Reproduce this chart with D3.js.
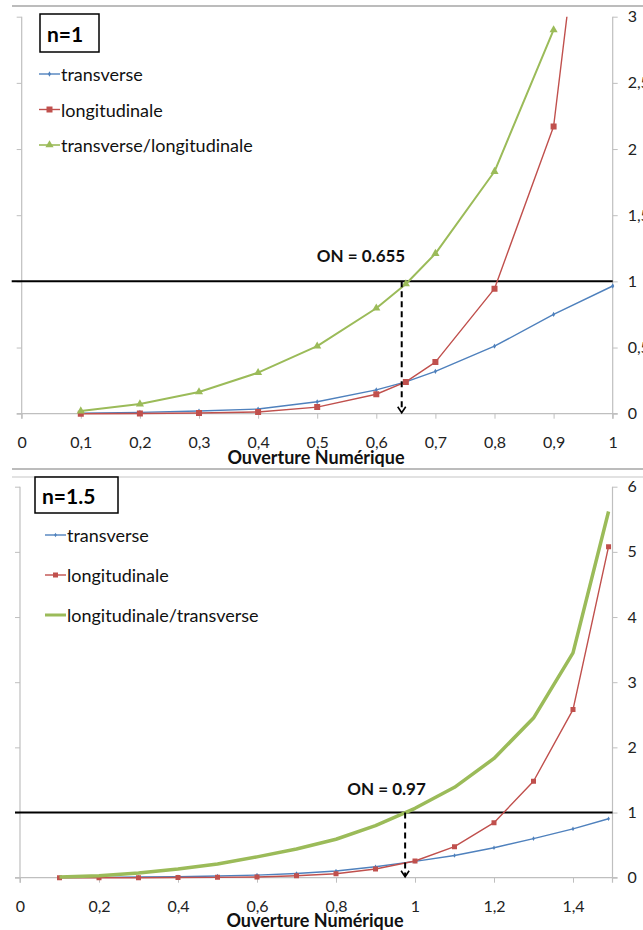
<!DOCTYPE html>
<html><head><meta charset="utf-8">
<script src="https://cdn.jsdelivr.net/npm/d3@7"></script>
<style>
html,body{margin:0;padding:0;background:#fff;}
svg{display:block;font-family:Lato,"Open Sans",sans-serif;}
</style></head>
<body>
<svg id="c" width="643" height="930"></svg>
<script>
// ---------- DATA ----------
// Chart 1 (n=1)
const x1 = [0.1, 0.2, 0.3, 0.4, 0.5, 0.6, 0.65, 0.7, 0.8, 0.9, 1.0];
const trans1 = [0.003, 0.01, 0.02, 0.035, 0.09, 0.18, 0.24, 0.32, 0.51, 0.75, 0.965];
const longi1 = [0.0, 0.002, 0.005, 0.013, 0.05, 0.147, 0.24, 0.39, 0.945, 2.17, 5.86];
const ratio1 = [0.02, 0.073, 0.164, 0.31, 0.51, 0.797, 0.98, 1.21, 1.83, 2.9, null];
const xTicks1 = [0, 0.1, 0.2, 0.3, 0.4, 0.5, 0.6, 0.7, 0.8, 0.9, 1];
const xTickLabels1 = ["0", "0,1", "0,2", "0,3", "0,4", "0,5", "0,6", "0,7", "0,8", "0,9", "1"];
const yTicks1 = [0, 0.5, 1, 1.5, 2, 2.5, 3];
const yTickLabels1 = ["0", "0,5", "1", "1,5", "2", "2,5", "3"];
const legend1 = ["transverse", "longitudinale", "transverse/longitudinale"];
const on1 = 0.643;
const onLabel1 = "ON = 0.655";
const title1 = "n=1";

// Chart 2 (n=1.5)
const x2 = [0.1, 0.2, 0.3, 0.4, 0.5, 0.6, 0.7, 0.8, 0.9, 1.0, 1.1, 1.2, 1.3, 1.4, 1.49];
const trans2 = [0.002, 0.005, 0.01, 0.015, 0.025, 0.04, 0.065, 0.103, 0.169, 0.25, 0.34, 0.46, 0.60, 0.75, 0.905];
const longi2 = [0.0, 0.0, 0.0, 0.002, 0.005, 0.01, 0.03, 0.06, 0.133, 0.256, 0.476, 0.844, 1.48, 2.58, 5.08];
const ratio2 = [0.01, 0.03, 0.072, 0.133, 0.21, 0.32, 0.44, 0.59, 0.80, 1.065, 1.387, 1.83, 2.45, 3.45, 5.62];
const xTicks2 = [0, 0.2, 0.4, 0.6, 0.8, 1.0, 1.2, 1.4];
const xTickLabels2 = ["0", "0,2", "0,4", "0,6", "0,8", "1", "1,2", "1,4"];
const yTicks2 = [0, 1, 2, 3, 4, 5, 6];
const yTickLabels2 = ["0", "1", "2", "3", "4", "5", "6"];
const legend2 = ["transverse", "longitudinale", "longitudinale/transverse"];
const on2 = 0.975;
const onLabel2 = "ON = 0.97";
const title2 = "n=1.5";

const axisTitle = "Ouverture Numérique";

// ---------- STYLE ----------
const BLUE = "#4F81BD", RED = "#C0504D", GREEN = "#9BBB59", GRID = "#BFBFBF";
const svg = d3.select("#c");

// separators
[[6, "#A6A6A6"], [469, "#A6A6A6"], [477, "#D9D9D9"]].forEach(([y, c]) => {
  svg.append("line").attr("x1", 12).attr("x2", 643).attr("y1", y).attr("y2", y)
    .attr("stroke", c).attr("stroke-width", 1.5);
});

function symType(m) {
  return m === "square" ? d3.symbolSquare : m === "triangle" ? d3.symbolTriangle : d3.symbolDiamond;
}
function symSize(m, ms) {
  return ms * ms * (m === "triangle" ? 0.45 : m === "diamond" ? 0.5 : 1);
}

function drawChart(o) {
  const g = svg.append("g");
  const xs = d3.scaleLinear().domain(o.xDomain).range(o.xRange);
  const ys = d3.scaleLinear().domain(o.yDomain).range(o.yRange);
  const [L, R] = o.xRange, [B, T] = o.yRange;
  const clipId = "clip" + o.id;
  g.append("clipPath").attr("id", clipId).append("rect")
    .attr("x", L - 10).attr("y", T).attr("width", R - L + 20).attr("height", B - T + 10);

  // left axis (no labels)
  const la = g.append("g").attr("transform", `translate(${L},0)`)
    .call(d3.axisLeft(ys).tickValues(o.yTicks).tickSize(5).tickFormat(""));
  la.select(".domain").remove();
  la.selectAll(".tick line").attr("stroke", GRID);
  g.append("line").attr("x1", L).attr("x2", L).attr("y1", T).attr("y2", B + 5).attr("stroke", GRID).attr("stroke-width", 1.2);

  // right axis
  const ra = g.append("g").attr("transform", `translate(${R},0)`)
    .call(d3.axisRight(ys).tickValues(o.yTicks).tickSize(5).tickPadding(10)
      .tickFormat((d, i) => o.yTickLabels[i]));
  ra.select(".domain").remove();
  ra.selectAll(".tick line").attr("stroke", GRID);
  ra.selectAll(".tick text").attr("font-size", 16).attr("fill", "#222").attr("font-family", "Lato, sans-serif");
  g.append("line").attr("x1", R).attr("x2", R).attr("y1", T).attr("y2", B + 5).attr("stroke", GRID).attr("stroke-width", 1.2);

  // x axis
  const xa = g.append("g").attr("transform", `translate(0,${B})`)
    .call(d3.axisBottom(xs).tickValues(o.xTicks).tickSize(5).tickPadding(18)
      .tickFormat((d, i) => o.xTickLabels[i]));
  xa.select(".domain").remove();
  xa.selectAll(".tick line").attr("stroke", GRID);
  xa.selectAll(".tick text").attr("font-size", 16).attr("fill", "#222").attr("font-family", "Lato, sans-serif");
  g.append("line").attr("x1", L - 5).attr("x2", R + 5).attr("y1", B).attr("y2", B).attr("stroke", GRID).attr("stroke-width", 1.2);

  // axis title
  g.append("text").attr("x", o.titleX).attr("y", B + o.titleDy).attr("text-anchor", "middle")
    .attr("dominant-baseline", "central")
    .attr("font-weight", "bold").attr("font-size", 18).attr("fill", "#111").text(axisTitle);

  // reference line y=1
  g.append("line").attr("x1", o.refX1).attr("x2", R).attr("y1", ys(1)).attr("y2", ys(1))
    .attr("stroke", "#000").attr("stroke-width", 2);

  // series
  const series = [
    { vals: o.trans, color: BLUE, w: 1.4, marker: "diamond", ms: o.msBlue },
    { vals: o.longi, color: RED, w: 1.4, marker: "square", ms: o.msRed },
    { vals: o.ratio, color: GREEN, w: o.greenW, marker: o.greenMarker, ms: 8 }
  ];
  const plot = g.append("g").attr("clip-path", `url(#${clipId})`);
  series.forEach(s => {
    const pts = o.x.map((xv, i) => [xv, s.vals[i]]).filter(p => p[1] != null);
    const line = d3.line().x(p => xs(p[0])).y(p => ys(p[1]));
    plot.append("path").attr("d", line(pts)).attr("fill", "none")
      .attr("stroke", s.color).attr("stroke-width", s.w).attr("stroke-linejoin", "round");
    if (s.marker) {
      plot.selectAll(null).data(pts.filter(p => ys(p[1]) >= T)).enter().append("path")
        .attr("d", d3.symbol().type(symType(s.marker)).size(symSize(s.marker, s.ms)))
        .attr("transform", p => `translate(${xs(p[0])},${ys(p[1])})`)
        .attr("fill", s.color);
    }
  });

  // dashed arrow
  const ax = xs(o.on);
  g.append("line").attr("x1", ax).attr("x2", ax).attr("y1", ys(1)).attr("y2", B - 2)
    .attr("stroke", "#000").attr("stroke-width", 2).attr("stroke-dasharray", "6,4");
  g.append("path").attr("d", `M${ax - 4},${B - 7} L${ax},${B - 1} L${ax + 4},${B - 7}`)
    .attr("fill", "none").attr("stroke", "#000").attr("stroke-width", 1.6);

  // ON label
  g.append("text").attr("x", o.onLabelX).attr("y", o.onLabelY).attr("text-anchor", "middle")
    .attr("dominant-baseline", "central").attr("font-weight", "bold").attr("font-size", 17)
    .attr("fill", "#111").text(o.onLabel);

  // title box
  g.append("rect").attr("x", o.box[0]).attr("y", o.box[1]).attr("width", o.box[2]).attr("height", o.box[3])
    .attr("fill", "#fff").attr("stroke", "#000").attr("stroke-width", 1.5);
  g.append("text").attr("x", o.box[0] + 7).attr("y", o.box[1] + o.box[3] / 2).attr("dominant-baseline", "central")
    .attr("font-weight", "bold").attr("font-size", 21).attr("fill", "#000").text(o.title);

  // legend
  o.legend.forEach((name, i) => {
    const y = o.legY + i * o.legGap;
    const s = series[i];
    g.append("line").attr("x1", o.legX).attr("x2", o.legX + 21).attr("y1", y).attr("y2", y)
      .attr("stroke", s.color).attr("stroke-width", i === 2 ? o.greenLegW : 1.4);
    if (s.marker) {
      g.append("path").attr("d", d3.symbol().type(symType(s.marker)).size(symSize(s.marker, s.ms)))
        .attr("transform", `translate(${o.legX + 10.5},${y})`).attr("fill", s.color);
    }
    g.append("text").attr("x", o.legX + 22).attr("y", y).attr("dominant-baseline", "central")
      .attr("font-size", 18).attr("fill", "#111").text(name);
  });
}

drawChart({
  id: 1, x: x1, trans: trans1, longi: longi1, ratio: ratio1,
  xDomain: [0, 1], xRange: [21.7, 612.7], yDomain: [0, 3], yRange: [413.7, 16.7],
  xTicks: xTicks1, xTickLabels: xTickLabels1, yTicks: yTicks1, yTickLabels: yTickLabels1,
  titleX: 316, titleDy: 43.5, refX1: 11.7, greenW: 2, greenMarker: "triangle", greenLegW: 1.6,
  msBlue: 4, msRed: 6,
  on: on1, onLabel: onLabel1, onLabelX: 361, onLabelY: 255,
  box: [40, 14, 59, 38], title: title1,
  legend: legend1, legX: 39, legY: 74, legGap: 35.5
});

drawChart({
  id: 2, x: x2, trans: trans2, longi: longi2, ratio: ratio2,
  xDomain: [0, 1.5], xRange: [20, 612.5], yDomain: [0, 6], yRange: [877.7, 486.7],
  xTicks: xTicks2, xTickLabels: xTickLabels2, yTicks: yTicks2, yTickLabels: yTickLabels2,
  titleX: 315, titleDy: 42.5, refX1: 15, greenW: 3.5, greenMarker: null, greenLegW: 3,
  msBlue: 3.5, msRed: 5,
  on: on2, onLabel: onLabel2, onLabelX: 386.5, onLabelY: 788,
  box: [35, 477, 83, 36], title: title2,
  legend: legend2, legX: 45, legY: 535, legGap: 40
});
</script>
</body></html>
